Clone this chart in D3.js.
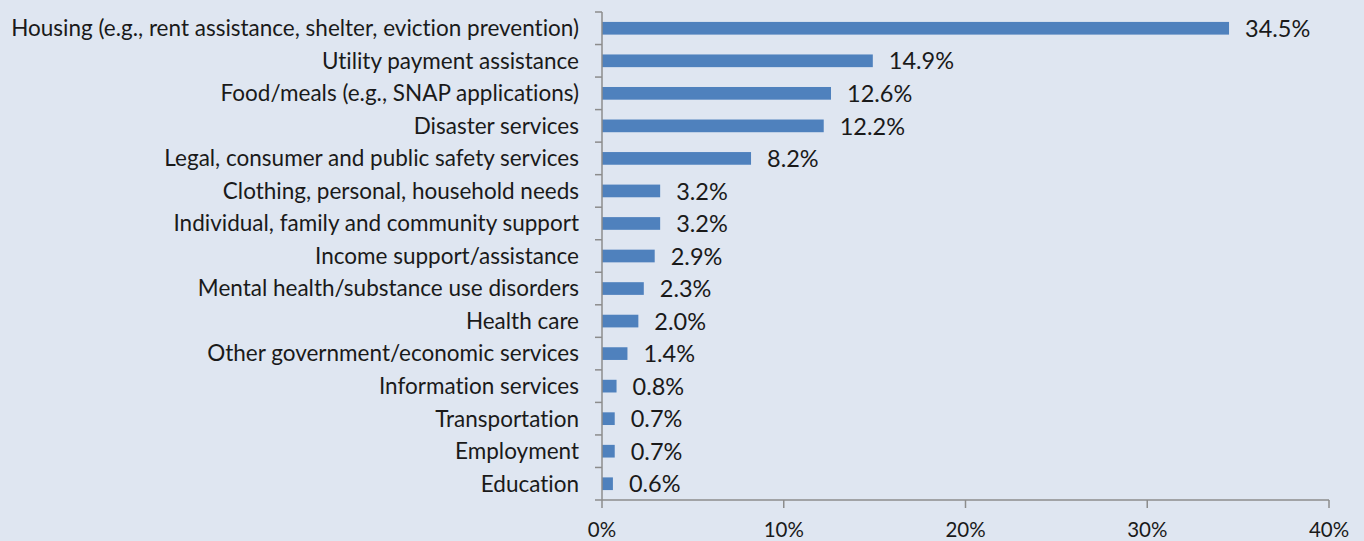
<!DOCTYPE html>
<html><head><meta charset="utf-8">
<script src="https://cdn.jsdelivr.net/npm/d3@7"></script>
<style>body{margin:0;background:#dfe6f1;} svg{display:block;} text{font-variant-ligatures:none;font-feature-settings:"liga" 0;}</style>
</head><body>
<svg id="c" width="1364" height="541"></svg>
<script>
const categories = ["Housing (e.g., rent assistance, shelter, eviction prevention)","Utility payment assistance","Food/meals (e.g., SNAP applications)","Disaster services","Legal, consumer and public safety services","Clothing, personal, household needs","Individual, family and community support","Income support/assistance","Mental health/substance use disorders","Health care","Other government/economic services","Information services","Transportation","Employment","Education"];
const values = [34.5,14.9,12.6,12.2,8.2,3.2,3.2,2.9,2.3,2.0,1.4,0.8,0.7,0.7,0.6];
const xTicks = [0,10,20,30,40];

const svg = d3.select("#c");
const W=1364,H=541;
svg.append("rect").attr("width",W).attr("height",H).attr("fill","#dfe6f1");
const x = d3.scaleLinear().domain([0,40]).range([602,1329]);
const y = d3.scaleBand().domain(categories).range([12,500]).paddingInner(0.61).paddingOuter(0.305);
const font = "Lato, 'Open Sans', sans-serif";
const axisColor = "#8c8c8c";

svg.append("g").selectAll("rect").data(values).join("rect")
  .attr("x",x(0)).attr("y",(d,i)=>y(categories[i]))
  .attr("width",d=>x(d)-x(0)).attr("height",y.bandwidth()).attr("fill","#4f81bd");

// y axis
const step = y.step();
svg.append("line").attr("x1",x(0)).attr("x2",x(0)).attr("y1",12).attr("y2",500).attr("stroke",axisColor).attr("stroke-width",1.5);
svg.append("g").selectAll("line").data(d3.range(categories.length+1)).join("line")
  .attr("x1",x(0)-7).attr("x2",x(0)).attr("y1",i=>12+i*step).attr("y2",i=>12+i*step).attr("stroke",axisColor).attr("stroke-width",1.5);
svg.append("g").selectAll("text").data(categories).join("text")
  .attr("x",579).attr("y",d=>y(d)+y.bandwidth()/2).attr("dy","0.35em").attr("text-anchor","end")
  .attr("font-family",font).attr("font-size",22.5).attr("fill","#1a1a1a").text(d=>d);

// x axis
svg.append("line").attr("x1",x(0)).attr("x2",x(40)).attr("y1",500).attr("y2",500).attr("stroke",axisColor).attr("stroke-width",1.5);
svg.append("g").selectAll("line").data(xTicks).join("line")
  .attr("x1",d=>x(d)).attr("x2",d=>x(d)).attr("y1",500).attr("y2",508).attr("stroke",axisColor).attr("stroke-width",1.5);
svg.append("g").selectAll("text").data(xTicks).join("text")
  .attr("x",d=>x(d)).attr("y",530).attr("dy","0.35em").attr("text-anchor","middle")
  .attr("font-family",font).attr("font-size",20.5).attr("fill","#1a1a1a").text(d=>d+"%");

// value labels
svg.append("g").selectAll("text").data(values).join("text")
  .attr("x",d=>x(d)+16).attr("y",(d,i)=>y(categories[i])+y.bandwidth()/2).attr("dy","0.37em")
  .attr("font-family",font).attr("font-size",23.5).attr("fill","#1a1a1a").text(d=>d.toFixed(1)+"%");
</script>
</body></html>
